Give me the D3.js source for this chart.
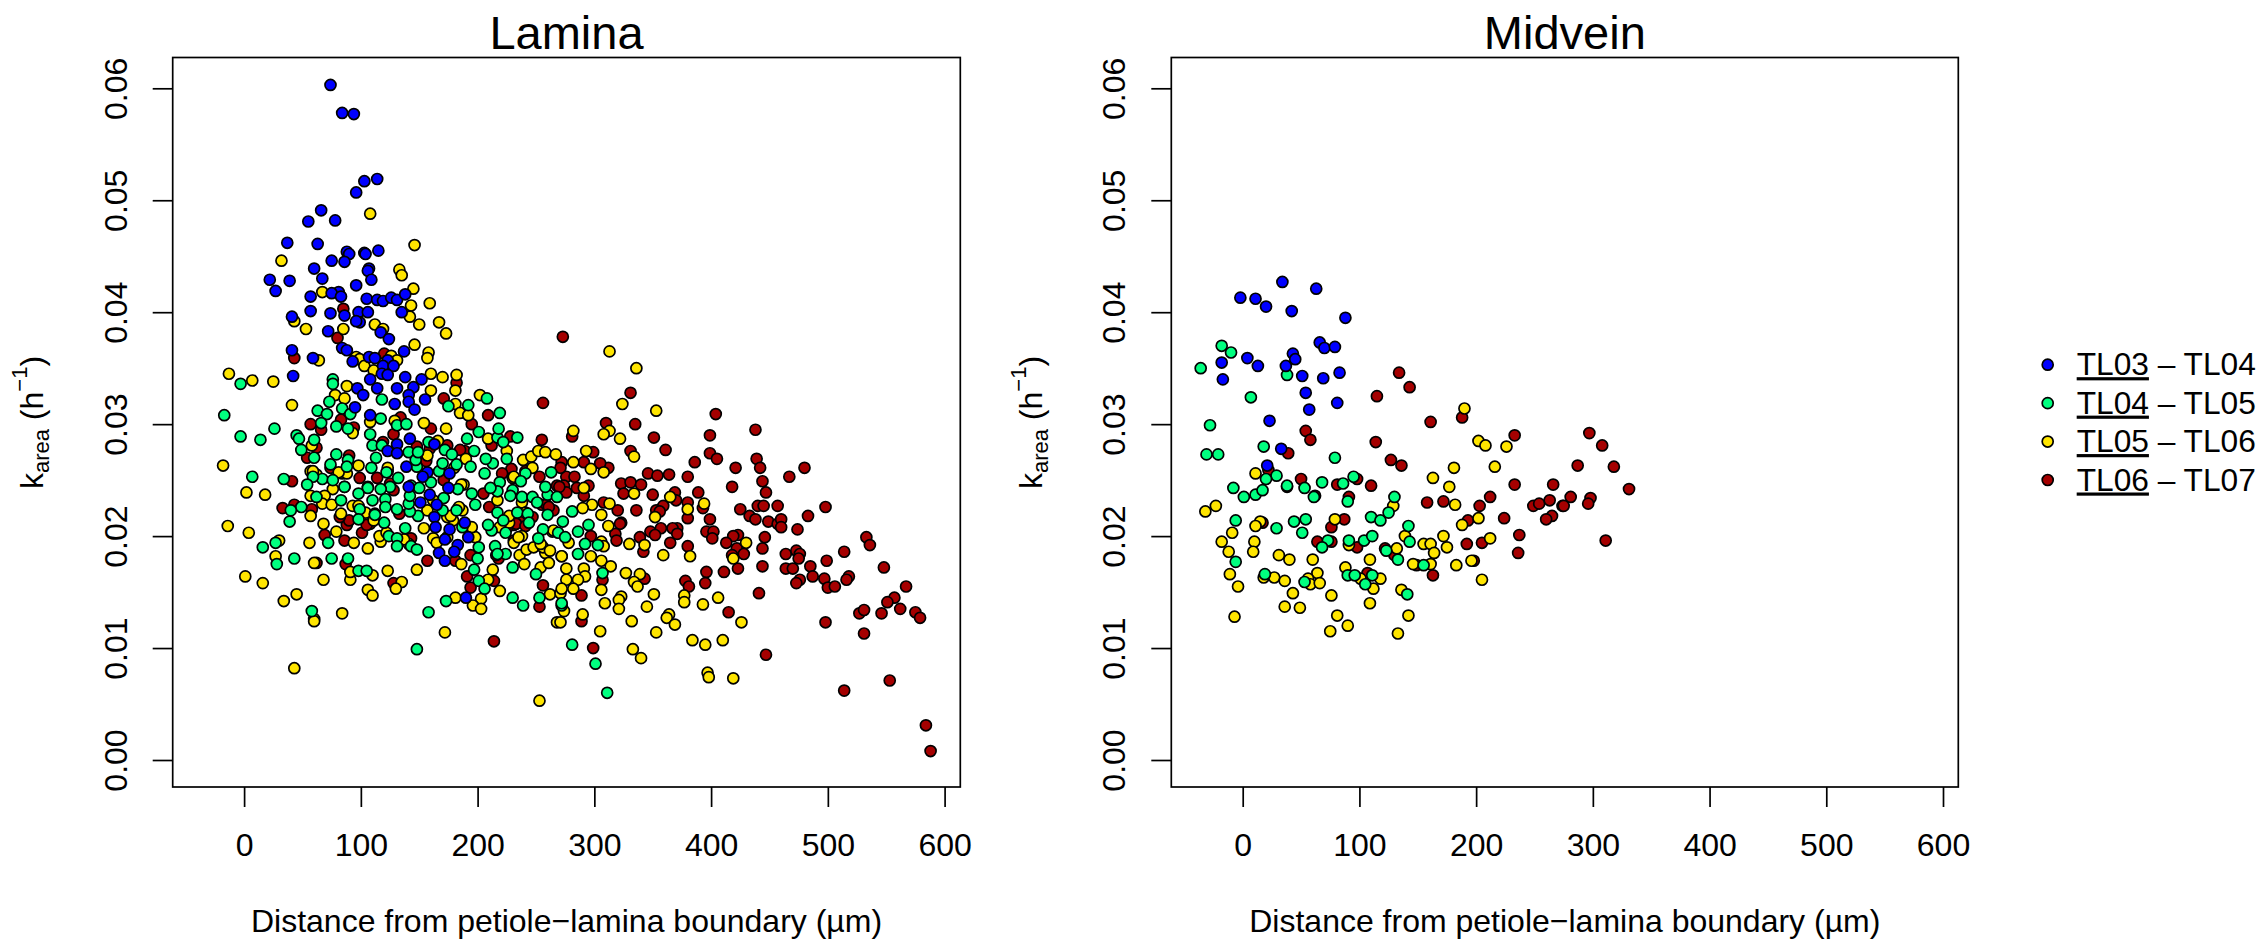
<!DOCTYPE html>
<html>
<head>
<meta charset="utf-8">
<script src="https://cdn.jsdelivr.net/npm/d3@7"></script>
<style>
  html, body { margin: 0; padding: 0; background: white; }
  svg { display: block; }
  text { font-family: "Liberation Sans", Arial, sans-serif; fill: black; }
  .axis path, .axis line { stroke: black; stroke-width: 1.7; }
  .axis text { font-size: 32px; }
</style>
</head>
<body>
<div id="graf"></div>
<script>
// Datos: [distancia (um), k_area (1/h)]
const laminaBlue = [[74,.0603],[84,.0578],[94,.0577],[114,.0519],[103,.0517],[96,.0507],[66,.0491],[55,.0481],[78,.0482],[37,.0462],[63,.0461],[115,.0455],[88,.0454],[90,.0452],[103,.0453],[104,.0452],[75,.0446],[86,.0445],[107,.0439],[106,.0437],[60,.0439],[109,.0429],[67,.043],[22,.0429],[39,.0428],[27,.0419],[96,.0424],[81,.0418],[75,.0417],[83,.0414],[57,.0414],[105,.0412],[114,.0411],[119,.041],[126,.0413],[131,.0411],[138,.0416],[135,.04],[57,.0401],[74,.0399],[98,.04],[106,.04],[86,.0397],[41,.0396],[99,.0391],[96,.0392],[72,.0383],[117,.0382],[124,.0376],[84,.0368],[88,.0366],[41,.0366],[59,.0359],[137,.0365],[107,.036],[112,.0359],[123,.0357],[93,.0356],[119,.0352],[128,.0352],[42,.0343],[108,.034],[118,.0345],[123,.0344],[138,.0342],[152,.034],[97,.0332],[114,.0332],[131,.0332],[145,.0333],[102,.0326],[141,.0326],[155,.0322],[141,.032],[129,.0318],[95,.0315],[146,.0313],[108,.0308],[142,.0287],[131,.0282],[163,.0282],[123,.0276],[131,.0274],[139,.0262],[157,.0257],[176,.0256],[153,.0253],[141,.0244],[175,.0243],[159,.0237],[151,.023],[165,.0228],[163,.0217],[164,.0208],[189,.0212],[176,.0206],[192,.0199],[172,.0197],[183,.0192],[180,.0186],[167,.0185],[172,.0178],[190,.0145]]

const laminaGreen = [[-3,.0336],[76,.034],[76,.0336],[73,.032],[63,.0312],[84,.0314],[71,.0309],[91,.0309],[66,.0301],[-17,.0308],[118,.0322],[117,.0305],[79,.0298],[89,.0296],[26,.0296],[-3,.0289],[14,.0286],[45,.029],[47,.0287],[60,.0286],[49,.0277],[108,.0291],[110,.0281],[118,.0281],[131,.0299],[139,.03],[60,.027],[79,.0273],[113,.027],[74,.0264],[89,.0268],[88,.0262],[109,.0261],[7,.0253],[34,.0251],[67,.0251],[76,.025],[59,.0253],[54,.0246],[122,.0257],[132,.0252],[125,.0244],[86,.0244],[106,.0243],[117,.0242],[98,.0238],[62,.0235],[83,.0232],[110,.0232],[121,.0233],[121,.0226],[99,.0224],[131,.0224],[112,.0219],[98,.0215],[49,.0226],[40,.0223],[39,.0213],[120,.0212],[138,.0207],[149,.0218],[142,.0222],[141,.0229],[142,.0236],[143,.0245],[141,.0275],[148,.0262],[150,.0243],[147,.0268],[149,.0275],[158,.0284],[167,.0258],[170,.0265],[172,.0277],[178,.0273],[182,.0264],[194,.0262],[160,.0248],[183,.0242],[195,.0238],[198,.0228],[182,.0223],[171,.0234],[170,.0223],[187,.0208],[124,.02],[131,.0198],[131,.0191],[72,.0194],[27,.0194],[16,.019],[28,.0175],[43,.018],[75,.018],[89,.018],[98,.0169],[105,.0169],[143,.0191],[148,.0188],[173,.0142],[158,.0132],[58,.0133],[148,.0099],[197,.017],[201,.016],[206,.0153],[200,.018],[201,.019],[230,.0145],[239,.0138],[230,.0172],[250,.0166],[253,.0145],[272,.0138],[215,.0191],[224,.0184],[217,.0184],[212,.0205],[224,.0203],[209,.021],[217,.0221],[222,.0214],[234,.0221],[243,.022],[244,.0212],[256,.0206],[252,.0198],[260,.0219],[269,.0203],[238,.0235],[247,.0235],[260,.0237],[268,.0235],[251,.023],[258,.0244],[263,.0257],[241,.0256],[237,.0249],[230,.0241],[228,.0236],[219,.0248],[217,.024],[211,.0243],[206,.0256],[213,.0265],[207,.0269],[225,.0269],[217,.0288],[222,.0284],[234,.0288],[218,.0296],[197,.0276],[191,.0287],[201,.0293],[219,.031],[208,.0323],[192,.0317],[175,.0316],[281,.0222],[295,.021],[273,.0213],[286,.0204],[275,.0199],[292,.0193],[303,.0192],[286,.0184],[307,.0167],[272,.014],[281,.0103],[301,.0086],[311,.006]]

const laminaYellow = [[108,.0488],[146,.046],[32,.0446],[133,.0438],[135,.0433],[145,.0421],[67,.0418],[159,.0408],[143,.0406],[142,.0396],[43,.0392],[53,.0385],[85,.0385],[112,.0389],[119,.0385],[150,.0389],[167,.0391],[173,.0381],[146,.0371],[158,.0364],[157,.0359],[64,.0357],[126,.0361],[96,.036],[99,.0358],[131,.0357],[103,.0352],[111,.0348],[-13,.0345],[7,.0339],[25,.0338],[41,.0317],[88,.0334],[78,.0326],[86,.0323],[170,.0342],[182,.0344],[181,.033],[160,.033],[160,.0345],[202,.0326],[181,.0318],[185,.031],[192,.0308],[154,.0301],[173,.0296],[129,.0303],[108,.0302],[93,.0292],[58,.0281],[209,.0287],[225,.0276],[239,.0268],[246,.0271],[252,.0276],[258,.0275],[267,.0273],[190,.0269],[-18,.0263],[98,.0263],[57,.0258],[62,.0255],[84,.0256],[2,.0239],[18,.0237],[57,.0236],[76,.0242],[69,.0236],[67,.0229],[75,.0228],[93,.0227],[83,.022],[57,.0218],[-14,.0209],[4,.0203],[68,.0211],[79,.0204],[30,.0196],[56,.0194],[94,.0194],[106,.0189],[117,.0195],[27,.0182],[60,.0176],[123,.0169],[148,.017],[186,.0175],[213,.017],[1,.0164],[16,.0158],[68,.0161],[91,.0161],[91,.0168],[110,.0165],[135,.0159],[130,.0153],[209,.0161],[219,.0151],[106,.0152],[110,.0147],[181,.0145],[203,.0144],[262,.0148],[271,.0149],[34,.0142],[45,.0148],[60,.0126],[60,.0124],[84,.0131],[196,.0138],[203,.0135],[172,.0114],[43,.0082],[268,.0123],[253,.0053],[238,.02],[258,.0185],[236,.0183],[240,.0175],[254,.0172],[227,.0212],[198,.0199],[217,.0232],[154,.0207],[116,.02],[162,.0198],[165,.0194],[242,.0188],[261,.0176],[248,.019],[264,.0204],[230,.0252],[238,.023],[141,.0193],[187,.0223],[179,.0214],[188,.0246],[174,.0217],[111,.0214],[104,.0221],[86,.0244],[123,.0258],[313,.0365],[336,.035],[324,.0318],[353,.0312],[313,.0294],[282,.0294],[308,.0291],[322,.0287],[334,.0271],[293,.0276],[282,.0266],[297,.026],[308,.0257],[291,.0243],[334,.0238],[365,.0235],[394,.0229],[380,.0224],[313,.0229],[298,.0228],[290,.0225],[306,.0219],[352,.0217],[312,.0209],[330,.0193],[343,.0192],[430,.0194],[359,.0183],[382,.0182],[419,.018],[306,.0195],[278,.0194],[308,.0191],[297,.0182],[306,.0178],[314,.0173],[272,.0182],[276,.0171],[291,.0171],[292,.0164],[276,.0161],[286,.0161],[327,.0167],[339,.0166],[334,.0159],[337,.0155],[306,.0152],[282,.0153],[272,.0153],[351,.0148],[323,.0146],[321,.0143],[309,.014],[321,.0135],[345,.0137],[377,.0147],[377,.0141],[393,.0139],[406,.0145],[274,.0133],[290,.013],[364,.013],[362,.0127],[369,.0121],[332,.0124],[426,.0123],[305,.0115],[353,.0114],[384,.0107],[395,.0103],[410,.0107],[333,.0099],[340,.0091],[397,.0078],[398,.0074],[419,.0073],[271,.0123],[231,.0253],[247,.0261],[227,.0218],[256,.019],[262,.0187],[254,.0193],[241,.0221],[219,.0208],[231,.0194],[235,.0199],[265,.0205],[272,.0182],[184,.0226],[195,.0208],[177,.0218],[174,.0199],[157,.0223],[162,.0232],[180,.0261],[186,.0246],[157,.0272],[166,.0285],[123,.0261],[106,.0244],[112,.022],[98,.0227],[88,.0256],[81,.0257],[59,.0258],[122,.0203],[137,.0197]]

const laminaRed = [[85,.0403],[80,.0377],[43,.0359],[120,.0363],[273,.0378],[57,.03],[66,.0295],[83,.0304],[94,.0297],[134,.0306],[128,.0291],[160,.0296],[171,.0323],[182,.0337],[209,.0308],[195,.03],[256,.0319],[255,.0286],[228,.0289],[212,.0281],[119,.0284],[62,.0279],[54,.027],[90,.0272],[74,.0261],[41,.0249],[99,.0252],[114,.0252],[128,.0241],[171,.025],[33,.0225],[43,.0228],[58,.0224],[133,.022],[88,.021],[101,.0203],[108,.0211],[69,.0201],[86,.0196],[143,.0198],[210,.0226],[255,.0228],[259,.0228],[231,.021],[189,.0276],[174,.0281],[148,.028],[229,.026],[253,.0253],[268,.0245],[194,.0183],[181,.0178],[218,.018],[62,.0176],[87,.0175],[157,.0178],[128,.0158],[191,.0164],[194,.0154],[256,.0156],[253,.0137],[214,.0106],[214,.016],[225,.0207],[236,.0213],[331,.0328],[404,.0309],[335,.03],[310,.0301],[438,.0295],[399,.029],[281,.0289],[351,.0288],[361,.0277],[399,.0274],[405,.0269],[439,.0269],[331,.0276],[386,.0266],[421,.0261],[442,.0261],[480,.0261],[467,.0253],[299,.0275],[291,.0266],[312,.0261],[305,.0265],[380,.0253],[418,.0244],[444,.0249],[447,.0239],[346,.0256],[354,.0254],[364,.0255],[323,.0247],[331,.0248],[340,.0246],[325,.0238],[350,.0237],[389,.0239],[369,.0239],[370,.0232],[380,.023],[393,.0225],[380,.0216],[359,.0227],[353,.0223],[356,.0222],[336,.0223],[320,.0223],[323,.0212],[322,.0211],[425,.0224],[433,.0218],[438,.0215],[440,.0227],[445,.0227],[457,.0227],[449,.0213],[457,.0211],[460,.0215],[460,.0208],[474,.0206],[483,.0218],[498,.0226],[399,.0215],[396,.0204],[402,.0204],[401,.0198],[371,.0207],[367,.0207],[371,.0202],[357,.0207],[348,.0204],[352,.0201],[339,.0199],[318,.0202],[319,.0196],[365,.0194],[380,.0191],[342,.0186],[423,.0201],[419,.02],[413,.0194],[422,.0189],[446,.0199],[444,.0189],[428,.0184],[418,.0183],[411,.0168],[423,.0171],[444,.0173],[396,.0168],[395,.0158],[378,.016],[381,.0155],[343,.0162],[307,.0161],[289,.0147],[441,.0149],[415,.0132],[289,.0124],[299,.01],[447,.0094],[464,.0184],[473,.0187],[476,.0184],[475,.018],[464,.0171],[470,.0171],[485,.0173],[487,.0164],[499,.0178],[514,.0186],[533,.0199],[536,.0192],[548,.0172],[497,.0162],[476,.0161],[473,.0158],[500,.0154],[506,.0155],[518,.0164],[516,.0161],[567,.0155],[557,.0145],[551,.0141],[546,.0131],[562,.0135],[527,.0131],[531,.0134],[575,.0132],[579,.0127],[498,.0123],[531,.0113],[514,.0062],[553,.0071],[584,.0031],[588,.0008],[297,.02],[272,.0266],[276,.0253],[283,.0253],[295,.0245],[274,.0245],[285,.0243],[276,.0239],[291,.0236],[308,.023],[247,.0217],[233,.0211],[223,.0208],[241,.0258],[265,.0223],[221,.0256],[205,.0238],[185,.0277],[156,.0267],[159,.0278],[125,.0247],[105,.021],[90,.0214],[82,.0217],[271,.0261],[270,.0244],[261,.0226],[241,.0209],[231,.0196],[216,.0183]]

const midveinBlue = [[34,.0427],[63,.0421],[-2,.0413],[11,.0412],[20,.0405],[42,.0401],[88,.0395],[66,.0373],[70,.0368],[79,.0369],[43,.0363],[45,.0358],[37,.0352],[4,.0359],[13,.0352],[-18,.0355],[-17,.034],[51,.0343],[69,.0341],[83,.0346],[54,.0328],[57,.0313],[81,.0319],[23,.0303],[33,.0278],[21,.0263]]

const midveinGreen = [[-18,.037],[-10,.0364],[-36,.035],[38,.0344],[7,.0324],[-28,.0299],[-31,.0273],[-21,.0273],[18,.028],[79,.027],[29,.0254],[20,.0251],[-8,.0243],[1,.0235],[11,.0237],[17,.0241],[38,.0245],[53,.0243],[68,.0248],[95,.0253],[86,.0247],[61,.0235],[90,.0231],[130,.0235],[125,.0221],[110,.0217],[118,.0214],[142,.0209],[143,.0195],[-6,.0214],[44,.0213],[54,.0215],[29,.0207],[51,.0203],[73,.0196],[91,.0196],[68,.019],[104,.0196],[111,.02],[123,.0187],[133,.0179],[155,.0174],[-6,.0177],[19,.0166],[53,.0159],[90,.0165],[96,.0165],[111,.0165],[105,.0157],[141,.0148]]

const midveinYellow = [[190,.0314],[202,.0285],[208,.0281],[226,.028],[216,.0262],[181,.0261],[163,.0252],[177,.0244],[182,.0228],[11,.0256],[-23,.0227],[-32,.0222],[129,.0227],[202,.0216],[188,.021],[79,.0215],[15,.0213],[11,.0209],[-9,.0203],[-18,.0195],[10,.0195],[9,.0186],[-12,.0186],[-11,.0166],[-4,.0155],[18,.0163],[27,.0163],[36,.016],[31,.0183],[40,.0179],[60,.0179],[91,.0192],[109,.0179],[132,.0189],[139,.02],[155,.0193],[161,.0193],[164,.0185],[172,.02],[175,.019],[196,.0178],[183,.0174],[146,.0175],[161,.0175],[205,.0161],[212,.0198],[88,.0172],[64,.0167],[56,.0162],[58,.0157],[66,.0158],[101,.0162],[118,.0162],[112,.0153],[136,.0152],[43,.0149],[76,.0147],[36,.0137],[49,.0136],[109,.014],[-7,.0128],[81,.0129],[142,.0129],[90,.012],[75,.0115],[133,.0113]]

const midveinRed = [[134,.0346],[143,.0333],[115,.0325],[161,.0302],[188,.0306],[233,.029],[54,.0294],[58,.0286],[114,.0284],[39,.0274],[127,.0268],[136,.0263],[22,.0259],[50,.0251],[98,.0251],[81,.0246],[110,.0245],[233,.0246],[266,.0246],[38,.0244],[62,.0236],[91,.0235],[158,.023],[172,.0231],[212,.0235],[203,.0227],[249,.0227],[254,.0229],[263,.0232],[274,.0227],[265,.0218],[260,.0215],[224,.0216],[193,.0214],[237,.0201],[205,.0194],[192,.0193],[236,.0185],[87,.0215],[76,.0208],[17,.0212],[64,.0195],[76,.0195],[98,.019],[122,.0189],[130,.0183],[149,.0174],[198,.0178],[107,.0167],[163,.0165],[297,.0292],[308,.0281],[287,.0263],[318,.0262],[331,.0242],[281,.0235],[298,.0234],[296,.0229],[275,.0227],[311,.0196]]

const xTicks = [0, 100, 200, 300, 400, 500, 600]
const yTicks = [0, 0.01, 0.02, 0.03, 0.04, 0.05, 0.06]
const seriesNames = ["TL03", "TL04", "TL05", "TL06"]
const seriesNext = ["TL04", "TL05", "TL06", "TL07"]
const seriesColors = ["#0000ff", "#00ff7f", "#ffe500", "#a50000"]

// Dimensiones
const anchoTotal = 2267
const altoTotal = 941
const radio = 5.5
const plotTop = 57.5
const plotBottom = 787

const svg = d3.select("#graf")
  .append("svg")
  .attr("width", anchoTotal)
  .attr("height", altoTotal)

const y = d3.scaleLinear().domain([0, 0.06]).range([760, 88.3])

const panel = (titulo, left, right, x0, x600, datos) => {
  const x = d3.scaleLinear().domain([0, 600]).range([x0, x600])
  const g = svg.append("g")

  // El orden importa: rojo abajo, azul arriba
  const orden = [3, 2, 1, 0]
  orden.forEach((i) => {
    g.append("g")
      .selectAll("circle")
      .data(datos[i])
      .enter()
      .append("circle")
      .attr("cx", (d) => x(d[0]))
      .attr("cy", (d) => y(d[1]))
      .attr("r", radio)
      .attr("fill", seriesColors[i])
      .attr("stroke", "black")
      .attr("stroke-width", 1.7)
  })

  g.append("rect")
    .attr("x", left)
    .attr("y", plotTop)
    .attr("width", right - left)
    .attr("height", plotBottom - plotTop)
    .attr("fill", "none")
    .attr("stroke", "black")
    .attr("stroke-width", 1.7)

  const xAxis = d3.axisBottom(x).tickValues(xTicks).tickSize(20).tickSizeOuter(0).tickPadding(26)
  g.append("g")
    .attr("class", "axis")
    .attr("transform", `translate(0, ${plotBottom})`)
    .call(xAxis)
    .call((a) => a.select(".domain").remove())

  const yAxis = d3.axisLeft(y).tickValues(yTicks).tickSize(20).tickSizeOuter(0).tickFormat(d3.format(".2f"))
  g.append("g")
    .attr("class", "axis")
    .attr("transform", `translate(${left}, 0)`)
    .call(yAxis)
    .call((a) => a.select(".domain").remove())
    .selectAll("text")
    .attr("text-anchor", "middle")
    .attr("dy", 0)
    .attr("x", 0)
    .attr("y", 0)
    .attr("transform", "translate(-46, 0) rotate(-90)")

  const centro = (left + right) / 2

  g.append("text")
    .attr("x", centro)
    .attr("y", 49)
    .attr("text-anchor", "middle")
    .style("font-size", "47px")
    .text(titulo)

  g.append("text")
    .attr("x", centro)
    .attr("y", 932)
    .attr("text-anchor", "middle")
    .style("font-size", "32px")
    .text("Distance from petiole\u2212lamina boundary (\u00b5m)")

  const yLabel = g.append("text")
    .attr("transform", `translate(${left - 129.4}, 422.5) rotate(-90)`)
    .attr("text-anchor", "middle")
    .style("font-size", "32px")
  yLabel.append("tspan").text("k")
  yLabel.append("tspan").attr("dy", 6).style("font-size", "22px").text("area")
  yLabel.append("tspan").attr("dy", -6).text(" (h")
  yLabel.append("tspan").attr("dy", -16).style("font-size", "22px").text("\u22121")
  yLabel.append("tspan").attr("dy", 16).text(")")
}

panel("Lamina", 172.7, 960.3, 244.1, 944.6, [laminaBlue, laminaGreen, laminaYellow, laminaRed])
panel("Midvein", 1171.3, 1958.3, 1242.7, 1943, [midveinBlue, midveinGreen, midveinYellow, midveinRed])

// Leyenda
const legendY = d3.scalePoint().domain(seriesNames).range([364.7, 480])
const legend = svg.append("g")

legend.selectAll("circle")
  .data(seriesNames)
  .enter()
  .append("circle")
  .attr("cx", 2047.7)
  .attr("cy", (d) => legendY(d))
  .attr("r", radio)
  .attr("fill", (d, i) => seriesColors[i])
  .attr("stroke", "black")
  .attr("stroke-width", 1.7)

const legendText = legend.selectAll("text")
  .data(seriesNames)
  .enter()
  .append("text")
  .attr("x", 2076.7)
  .attr("y", (d) => legendY(d) + 10.5)
  .style("font-size", "31.7px")

legendText.append("tspan")
  .style("text-decoration", "underline")
  .text((d) => d)
legendText.append("tspan")
  .text((d, i) => ` \u2013 ${seriesNext[i]}`)
</script>
</body>
</html>
